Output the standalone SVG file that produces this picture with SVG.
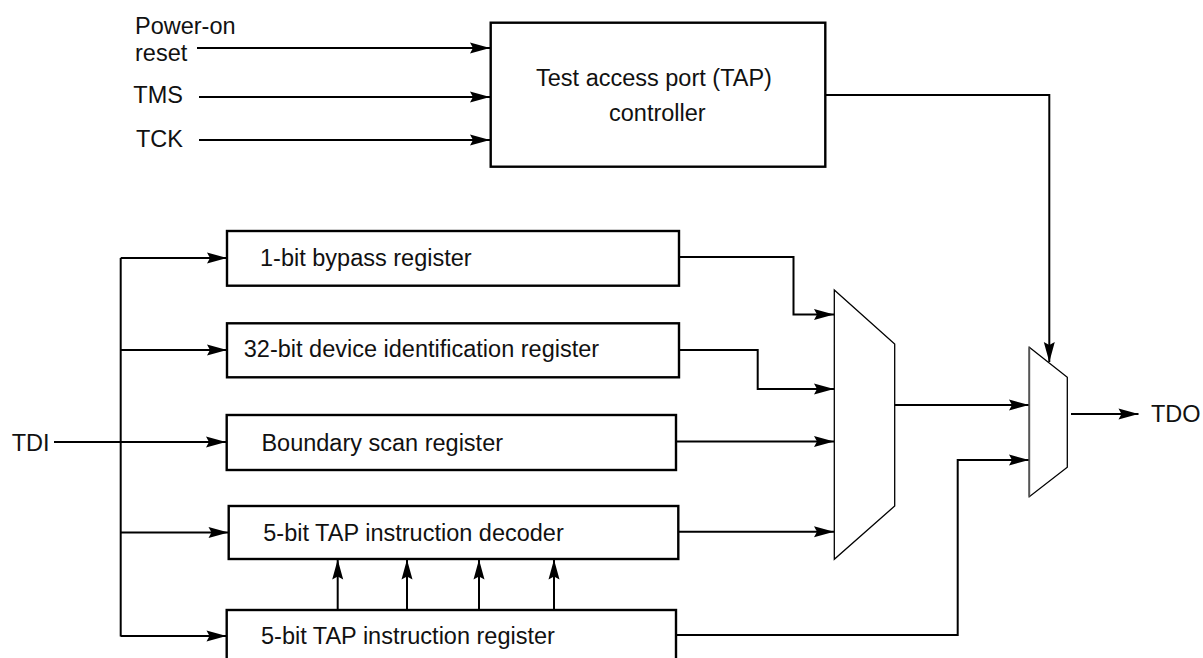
<svg xmlns="http://www.w3.org/2000/svg" width="1203" height="658" viewBox="0 0 1203 658">
  <style>
    .box { fill: #fff; stroke: #000; stroke-width: 2.4; }
    .mux { fill: #fff; stroke: #000; stroke-width: 1.3; }
    .wire { fill: none; stroke: #000; stroke-width: 2; }
    .arr { marker-end: url(#ah); }
    text { font-family: "Liberation Sans", Arial, Helvetica, sans-serif; font-size: 23.5px; fill: #111; }
  </style>
  <defs>
    <marker id="ah" markerUnits="userSpaceOnUse" markerWidth="21" markerHeight="12" refX="20" refY="6" orient="auto" overflow="visible">
      <path d="M0,0.5 L20,6 L0,11.5 L3,6 z" fill="#000"/>
    </marker>
  </defs>
  <rect width="1203" height="658" fill="#fff"/>

  <g id="connectors">
    <path class="wire arr" d="M197,48 H490"/>
    <path class="wire arr" d="M199,97 H490"/>
    <path class="wire arr" d="M199,140 H490"/>
    <path class="wire arr" d="M825,95 H1049.3 V362"/>
    <path class="wire arr" d="M54,442 H226"/>
    <path class="wire" d="M120.7,258 V636.5"/>
    <path class="wire arr" d="M120.7,258 H227"/>
    <path class="wire arr" d="M120.7,350 H227"/>
    <path class="wire arr" d="M120.7,532.5 H228.5"/>
    <path class="wire arr" d="M120.7,636 H226.5"/>
    <path class="wire arr" d="M679,257 H793.5 V314.5 H834"/>
    <path class="wire arr" d="M679,350 H757.7 V389 H834"/>
    <path class="wire arr" d="M676,441.5 H834"/>
    <path class="wire arr" d="M678,531.7 H834"/>
    <path class="wire arr" d="M894.7,405 H1029"/>
    <path class="wire arr" d="M676,635 H957.7 V460 H1029"/>
    <path class="wire arr" d="M1071,414 H1138.5"/>
    <path class="wire arr" d="M337.7,610 V559.5"/>
    <path class="wire arr" d="M407,610 V559.5"/>
    <path class="wire arr" d="M479,610 V559.5"/>
    <path class="wire arr" d="M554,610 V559.5"/>
  </g>

  <g id="inputs">
    <text x="135" y="34">Power-on</text>
    <text x="135" y="61">reset</text>
    <text x="133.3" y="103.3">TMS</text>
    <text x="136" y="146.7">TCK</text>
    <text x="11.7" y="451">TDI</text>
    <text x="1151" y="421.5">TDO</text>
  </g>

  <g id="tap-controller">
    <rect class="box" x="490.7" y="22.7" width="334.6" height="144"/>
    <text x="536" y="86">Test access port (TAP)</text>
    <text x="609" y="120.7">controller</text>
  </g>

  <g id="bypass-register">
    <rect class="box" x="227" y="231" width="452" height="54.7"/>
    <text x="260" y="265.7">1-bit bypass register</text>
  </g>

  <g id="id-register">
    <rect class="box" x="227" y="323.3" width="452" height="54"/>
    <text x="243.8" y="357.3">32-bit device identification register</text>
  </g>

  <g id="boundary-scan-register">
    <rect class="box" x="226.7" y="415" width="449.3" height="55"/>
    <text x="261.4" y="450.7">Boundary scan register</text>
  </g>

  <g id="instruction-decoder">
    <rect class="box" x="228.7" y="506" width="449.6" height="53"/>
    <text x="263.3" y="541">5-bit TAP instruction decoder</text>
  </g>

  <g id="instruction-register">
    <rect class="box" x="226.7" y="610" width="449.3" height="60"/>
    <text x="261" y="644.3">5-bit TAP instruction register</text>
  </g>

  <g id="mux1">
    <polygon class="mux" points="834.3,290 894.7,344 894.7,506 834.3,559.3"/>
  </g>

  <g id="mux2">
    <polygon class="mux" points="1029.3,347.3 1067.3,377.3 1067.3,467.3 1029.3,496.7"/>
    <line x1="1029.3" y1="347.3" x2="1029.3" y2="496.7" stroke="#555" stroke-width="1.8"/>
  </g>
</svg>
